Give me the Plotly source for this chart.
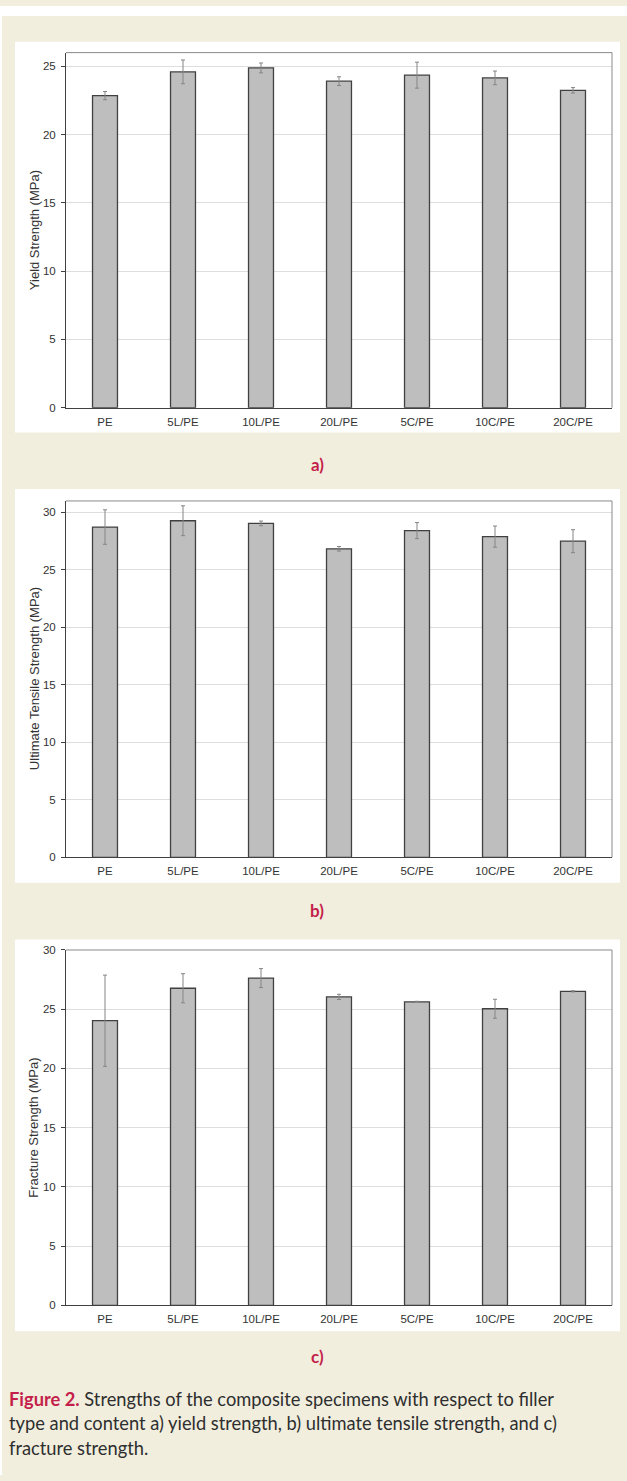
import plotly.graph_objects as go

W, H = 627, 1481

categories = ["PE", "5L/PE", "10L/PE", "20L/PE", "5C/PE", "10C/PE", "20C/PE"]

yield_strength = [22.85, 24.59, 24.88, 23.91, 24.35, 24.15, 23.24]
yield_err = [0.30, 0.87, 0.36, 0.32, 0.95, 0.50, 0.20]

uts = [28.73, 29.28, 29.05, 26.84, 28.42, 27.90, 27.50]
uts_err = [1.50, 1.30, 0.20, 0.20, 0.70, 0.92, 1.00]

fracture_strength = [24.03, 26.77, 27.63, 26.04, 25.62, 25.04, 26.51]
fracture_err = [3.85, 1.23, 0.80, 0.22, 0.05, 0.80, 0.05]

y_titles = ["Yield Strength (MPa)", "Ultimate Tensile Strength (MPa)", "Fracture Strength (MPa)"]
y_ranges = [[0, 26], [0, 31], [0, 30]]
panel_labels = ["a)", "b)", "c)"]

caption_lines = [
    "<b><span style='color:#C41F4A'>Figure 2.</span></b> Strengths of the composite specimens with respect to filler",
    "type and content a) yield strength, b) ultimate tensile strength, and c)",
    "fracture strength.",
]

CREAM = "#F1EEDE"
CRIMSON = "#C41F4A"
AXIS = "#404040"
FONT = "Liberation Sans, Arial, sans-serif"


def px_x(v):
    return v / W


def px_y(v):
    return 1 - v / H


# plot areas (pixel boxes: left, top, right, bottom)
plot_boxes = [
    (66, 47, 612, 405),
    (66, 499, 612, 858.3),
    (66, 951.7, 612, 1310),
]
# white panels behind each chart
panel_boxes = [
    (15, 36, 620, 430),
    (15, 487, 620, 884),
    (15, 941, 620, 1336),
]
label_y = [462, 912, 1362]

series = [
    (yield_strength, yield_err),
    (uts, uts_err),
    (fracture_strength, fracture_err),
]

fig = go.Figure()
shapes = []
annotations = []

# page background: cream sheet with thin white strips top and left
shapes.append(dict(type="rect", xref="paper", yref="paper",
                   x0=0, x1=1, y0=0, y1=1, fillcolor="white",
                   line=dict(width=0), layer="below"))
shapes.append(dict(type="rect", xref="paper", yref="paper",
                   x0=px_x(2), x1=1, y0=0, y1=px_y(10), fillcolor=CREAM,
                   line=dict(width=0), layer="below"))

for i, ((vals, errs), box, pbox) in enumerate(zip(series, plot_boxes, panel_boxes)):
    n = "" if i == 0 else str(i + 1)
    xa, ya = "x" + n, "y" + n

    shapes.append(dict(type="rect", xref="paper", yref="paper",
                       x0=px_x(pbox[0]), x1=px_x(pbox[2]),
                       y0=px_y(pbox[3]), y1=px_y(pbox[1]),
                       fillcolor="white", line=dict(width=0), layer="below"))

    fig.add_trace(go.Bar(
        x=categories, y=vals,
        xaxis=xa, yaxis=ya,
        width=0.32,
        marker=dict(color="#BEBEBE", line=dict(color=AXIS, width=1.3)),
        error_y=dict(type="data", array=errs, visible=True,
                     color="#858585", thickness=1, width=2),
        showlegend=False,
    ))

    l, t, r, b = box
    fig.layout["xaxis" + n] = dict(
        domain=[px_x(l), px_x(r)], anchor=ya,
        showline=True, linecolor=AXIS, linewidth=1,
        ticks="", showgrid=False, fixedrange=True,
        tickfont=dict(family=FONT, size=11.5, color="#333333"),
        ticklabelstandoff=3,
    )
    fig.layout["yaxis" + n] = dict(
        domain=[px_y(b), px_y(t)], anchor=xa,
        range=y_ranges[i], dtick=5, tick0=0,
        showline=True, linecolor=AXIS, linewidth=1,
        ticks="outside", ticklen=4, tickcolor=AXIS, tickwidth=1,
        showgrid=True, gridcolor="#DEDEDE", gridwidth=1,
        zeroline=False, fixedrange=True,
        tickfont=dict(family=FONT, size=11.5, color="#333333"),
        ticklabelstandoff=3,
    )

    # lighter frame on the top and right of each plot area
    shapes.append(dict(type="line", xref=xa + " domain", yref=ya + " domain",
                       x0=0, x1=1, y0=1, y1=1, line=dict(color="#8A8A8A", width=1)))
    shapes.append(dict(type="line", xref=xa + " domain", yref=ya + " domain",
                       x0=1, x1=1, y0=0, y1=1, line=dict(color="#8A8A8A", width=1)))

    annotations.append(dict(
        text=y_titles[i], textangle=-90, showarrow=False,
        xref="paper", yref="paper",
        x=px_x(34), y=px_y((t + b) / 2), xanchor="center", yanchor="middle",
        font=dict(family=FONT, size=13, color="#333333"),
    ))
    annotations.append(dict(
        text="<b>" + panel_labels[i] + "</b>", showarrow=False,
        xref="paper", yref="paper",
        x=px_x(317), y=px_y(label_y[i]), xanchor="center", yanchor="middle",
        font=dict(family="Lato, Open Sans, sans-serif", size=17, color=CRIMSON),
    ))

caption_y = [1404, 1429, 1454]
for line, cy in zip(caption_lines, caption_y):
    annotations.append(dict(
        text=line, showarrow=False, xref="paper", yref="paper",
        x=px_x(7), y=px_y(cy), xanchor="left", yanchor="middle", align="left",
        font=dict(family="Lato, Open Sans, sans-serif", size=18.3, color="#2E2E2E"),
    ))

fig.update_layout(
    width=W, height=H,
    margin=dict(l=0, r=0, t=0, b=0),
    paper_bgcolor=CREAM, plot_bgcolor="white",
    shapes=shapes, annotations=annotations,
    bargap=0.68,
    showlegend=False,
)

fig.write_html("out.html", config={"displayModeBar": False})
